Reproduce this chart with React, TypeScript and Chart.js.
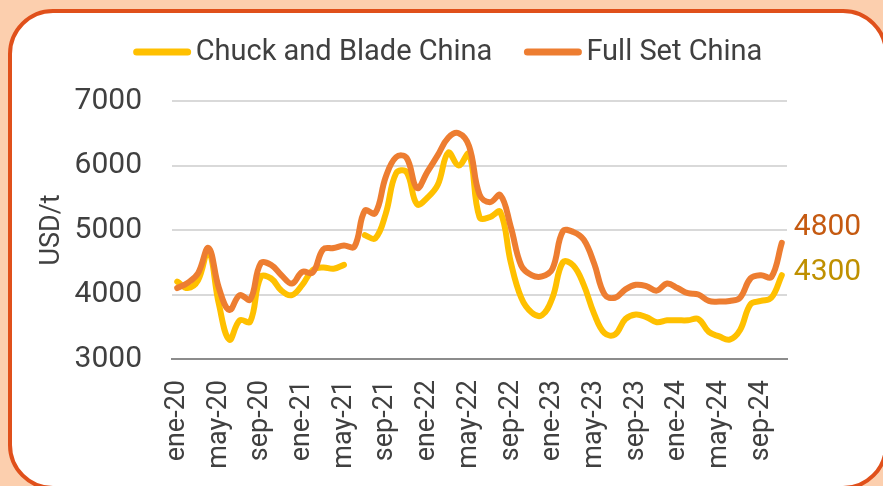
import React, { useEffect, useRef } from "react";
import { Chart, registerables } from "chart.js";

Chart.register(...registerables);

const MONTHS: string[] = [
  "ene-20","feb-20","mar-20","abr-20","may-20","jun-20","jul-20","ago-20","sep-20","oct-20","nov-20","dic-20",
  "ene-21","feb-21","mar-21","abr-21","may-21","jun-21","jul-21","ago-21","sep-21","oct-21","nov-21","dic-21",
  "ene-22","feb-22","mar-22","abr-22","may-22","jun-22","jul-22","ago-22","sep-22","oct-22","nov-22","dic-22",
  "ene-23","feb-23","mar-23","abr-23","may-23","jun-23","jul-23","ago-23","sep-23","oct-23","nov-23","dic-23",
  "ene-24","feb-24","mar-24","abr-24","may-24","jun-24","jul-24","ago-24","sep-24","oct-24","nov-24",
];

const CHUCK_AND_BLADE: (number | null)[] = [
  4200, 4100, 4220, 4680, 3850, 3300, 3600, 3580, 4270, 4250, 4060, 3990,
  4150, 4380, 4420, 4400, 4460, null, 4920, 4870, 5250, 5880, 5900, 5400,
  5500, 5700, 6200, 6000, 6180, 5200, 5200, 5280, 4500, 3950, 3720, 3680,
  3950, 4500, 4450, 4150, 3700, 3400, 3380, 3620, 3690, 3650, 3570, 3600,
  3600, 3600, 3620, 3420, 3350, 3300, 3450, 3850, 3900, 3950, 4300,
];

const FULL_SET: number[] = [
  4100, 4180, 4330, 4720, 4100, 3760, 3990, 3920, 4480, 4460, 4300, 4170,
  4350, 4340, 4700, 4720, 4760, 4740, 5300, 5260, 5820, 6130, 6120, 5650,
  5900, 6160, 6430, 6500, 6300, 5550, 5430, 5540, 5050, 4450, 4300, 4280,
  4400, 4980, 4970, 4850, 4480, 4000, 3950, 4080, 4150, 4130, 4060, 4170,
  4100, 4020, 4000, 3900, 3890, 3900, 3950, 4250, 4300, 4270, 4800,
];

const SERIES_NAMES = ["Chuck and Blade China", "Full Set China"];
const Y_TITLE = "USD/t";
const Y_MIN = 3000;
const Y_MAX = 7000;
const Y_STEP = 1000;

const YELLOW = "#FFC000";
const ORANGE = "#ED7D31";
const TEXT = "#404040";
const FONT = "Roboto, 'Noto Sans', sans-serif";

const endLabelPlugin = {
  id: "endLabels",
  afterDatasetsDraw(chart: any) {
    const ctx = chart.ctx;
    const cfg = [
      { ds: 0, color: "#BF9000", dy: -3 },
      { ds: 1, color: "#C55A11", dy: -15 },
    ];
    ctx.save();
    ctx.font = `30px ${FONT}`;
    ctx.textBaseline = "middle";
    ctx.textAlign = "left";
    cfg.forEach((c) => {
      const meta = chart.getDatasetMeta(c.ds);
      const data = chart.data.datasets[c.ds].data;
      const idx = data.length - 1;
      const pt = meta.data[idx];
      if (!pt) return;
      ctx.fillStyle = c.color;
      ctx.fillText(String(data[idx]), pt.x + 12, pt.y + c.dy);
    });
    ctx.restore();
  },
};

const legendPlugin = {
  id: "customLegend",
  afterDraw(chart: any) {
    const ctx = chart.ctx;
    ctx.save();
    ctx.font = `29px ${FONT}`;
    ctx.textBaseline = "middle";
    const lineLen = 57;
    const gap = 5;
    const spacing = 32;
    const items = chart.data.datasets.map((d: any) => ({
      text: d.label,
      color: d.borderColor,
      w: ctx.measureText(d.label).width,
    }));
    const total = items.reduce((s: number, it: any) => s + lineLen + gap + it.w, 0) + spacing * (items.length - 1);
    let x = 448 - total / 2;
    const y = 52;
    items.forEach((it: any) => {
      ctx.strokeStyle = it.color;
      ctx.lineWidth = 7;
      ctx.lineCap = "round";
      ctx.beginPath();
      ctx.moveTo(x + 3, y);
      ctx.lineTo(x + lineLen - 3, y);
      ctx.stroke();
      x += lineLen + gap;
      ctx.fillStyle = TEXT;
      ctx.textAlign = "left";
      ctx.fillText(it.text, x, y + 1);
      x += it.w + spacing;
    });
    ctx.restore();
  },
};

export default function App() {
  const canvasRef = useRef<HTMLCanvasElement | null>(null);

  useEffect(() => {
    const canvas = canvasRef.current;
    if (!canvas) return;
    const chart = new Chart(canvas, {
      type: "line",
      data: {
        labels: MONTHS,
        datasets: [
          {
            label: SERIES_NAMES[0],
            data: CHUCK_AND_BLADE,
            borderColor: YELLOW,
            backgroundColor: YELLOW,
            borderWidth: 6,
            pointRadius: 0,
            tension: 0.4,
            spanGaps: false,
            borderCapStyle: "round",
            borderJoinStyle: "round",
            order: 1,
          },
          {
            label: SERIES_NAMES[1],
            data: FULL_SET,
            borderColor: ORANGE,
            backgroundColor: ORANGE,
            borderWidth: 6,
            pointRadius: 0,
            tension: 0.4,
            borderCapStyle: "round",
            borderJoinStyle: "round",
            order: 0,
          },
        ],
      },
      options: {
        responsive: false,
        animation: false,
        devicePixelRatio: 1,
        layout: { padding: { left: 30, top: 101, right: 96, bottom: 0 } },
        plugins: {
          legend: { display: false },
          tooltip: { enabled: false },
        },
        scales: {
          x: {
            offset: true,
            grid: { display: false, drawTicks: false, offset: true },
            border: { display: true, color: "#8C8C8C", width: 2 },
            ticks: {
              autoSkip: false,
              maxRotation: 90,
              minRotation: 90,
              padding: 21,
              color: TEXT,
              font: { family: FONT, size: 27 },
              callback: (_v: any, i: number) => (i % 4 === 0 ? MONTHS[i] : ""),
            },
            afterFit: (s: any) => {
              s.height = 127;
            },
          },
          y: {
            min: Y_MIN,
            max: Y_MAX,
            ticks: {
              stepSize: Y_STEP,
              padding: 30,
              color: TEXT,
              font: { family: FONT, size: 30 },
              callback: (v: any) => String(v),
            },
            grid: { color: "#D9D9D9", lineWidth: 2, drawTicks: false },
            border: { display: false },
            title: {
              display: true,
              text: Y_TITLE,
              color: TEXT,
              font: { family: FONT, size: 27 },
              padding: { top: 6, bottom: 0 },
            },
            afterFit: (s: any) => {
              s.width = 142;
            },
          },
        },
      },
      plugins: [endLabelPlugin, legendPlugin],
    } as any);
    return () => chart.destroy();
  }, []);

  return (
    <div
      style={{
        position: "fixed",
        left: 0,
        top: 0,
        width: 883,
        height: 486,
        overflow: "hidden",
        background: "#FCCFAE",
      }}
    >
      <div
        style={{
          position: "absolute",
          left: 8,
          top: 9,
          width: 880,
          height: 481,
          boxSizing: "border-box",
          border: "4px solid #E0501B",
          borderRadius: 45,
          background: "#FFFFFF",
        }}
      />
      <canvas
        ref={canvasRef}
        width={883}
        height={486}
        style={{ position: "absolute", left: 0, top: 0, width: 883, height: 486 }}
      />
    </div>
  );
}
